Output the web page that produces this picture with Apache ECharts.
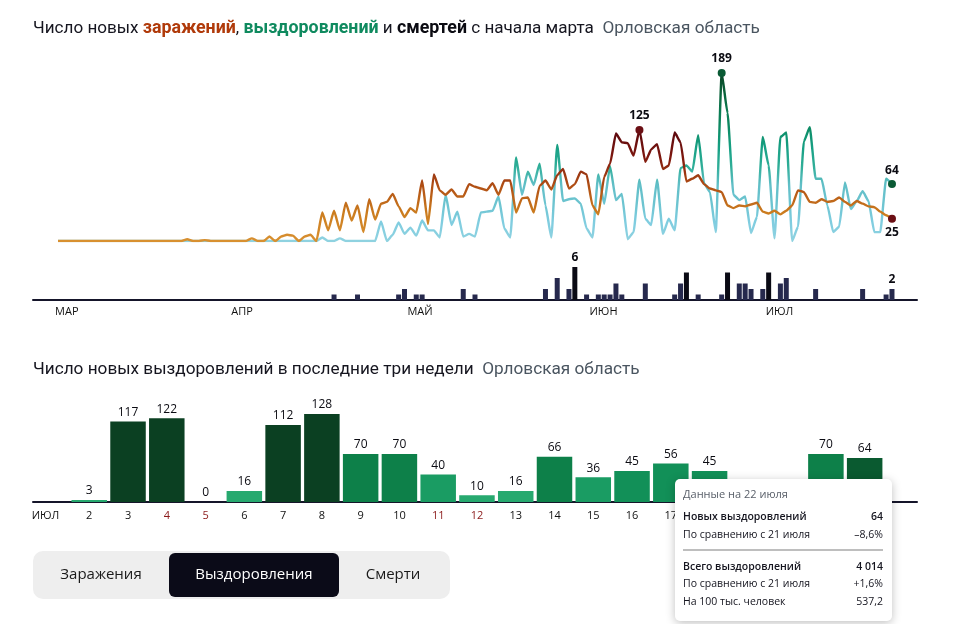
<!DOCTYPE html>
<html>
<head>
<meta charset="utf-8">
<style>
  html, body { margin: 0; padding: 0; background: #fff; }
  #chart { width: 960px; height: 624px; }
</style>
<script src="https://cdn.jsdelivr.net/npm/echarts@6/dist/echarts.min.js"></script>
</head>
<body>
<div id="chart"></div>
<script>
// daily values, 2 March to 22 July
var infections = [
  0,0,0,0,0,0,0,0,0,0,0,0,0,0,0,0,0,0,0,0,0,0,2,0,0,1,0,0,0,0,0,0,0,3,0,0,5,0,5,7,6,0,5,7,0,
  32,12,34,12,43,23,40,10,47,24,42,44,53,39,27,37,32,68,19,75,57,52,58,50,50,64,61,59,57,65,52,68,68,
  32,48,49,32,62,68,58,74,81,59,64,78,75,40,30,72,87,121,111,110,96,125,89,103,109,81,85,122,111,
  67,70,74,64,59,57,55,40,37,40,39,41,43,33,31,34,30,34,40,57,55,44,43,47,44,45,49,44,40,45,42,39,38,33,29,25
];
var recoveries = [
  0,0,0,0,0,0,0,0,0,0,0,0,0,0,0,0,0,0,0,0,0,0,0,0,0,0,0,0,0,0,0,0,0,0,0,0,0,0,0,0,0,0,0,0,0,
  4,0,0,3,0,0,0,0,0,0,22,0,7,21,8,15,6,23,12,12,4,52,18,33,5,8,5,32,33,34,50,14,4,
  94,52,78,63,87,40,4,108,45,47,48,42,14,4,75,42,84,46,53,2,10,69,25,18,69,8,25,12,82,
  85,78,119,65,55,10,189,144,52,46,50,9,27,117,85,3,117,122,0,16,112,128,70,70,40,10,16,66,36,45,56,45,10,10,70,64
];
var deathDays = [47,51,58,59,61,62,69,71,83,85,87,88,90,92,93,94,95,96,100,105,106,107,109,113,114,116,117,118,120,121,123,124,129,137,141,142];
var deathValues = [1,1,1,2,1,1,2,1,2,4,2,6,1,1,1,1,3,1,3,1,3,5,1,1,5,3,3,2,2,5,3,4,2,2,1,2];

var monthNames = ['МАР', 'АПР', 'МАЙ', 'ИЮН', 'ИЮЛ'];
var monthStarts = [0, 30, 60, 91, 121];

var julyDays = [2,3,4,5,6,7,8,9,10,11,12,13,14,15,16,17,18,19,20,21,22];
var julyRecoveries = [3,117,122,0,16,112,128,70,70,40,10,16,66,36,45,56,45,10,10,70,64];
var weekendDays = [4,5,11,12,18,19];

var tipLabels = ['Новых выздоровлений', 'По сравнению с 21 июля', 'Всего выздоровлений', 'По сравнению с 21 июля', 'На 100 тыс. человек'];
var tipValues = ['64', '–8,6%', '4 014', '+1,6%', '537,2'];
var tipRowY = [517, 535, 567, 584, 602];

var FONT = '"Open Sans", sans-serif';
var TITLE_FONT = 'Roboto, sans-serif';

function pairs(values) {
  return values.map(function (v, i) { return [i, v]; });
}

function dot(i, values, color, pos) {
  return {
    value: [i, values[i]],
    itemStyle: { color: color, opacity: 1 },
    label: { position: pos }
  };
}

function julyColor(v, idx) {
  if (idx === julyRecoveries.length - 1) return '#0a5a30';
  if (v >= 100) return '#0b4022';
  if (v >= 60) return '#0d8049';
  if (v >= 42) return '#129058';
  if (v >= 30) return '#1a9c63';
  return '#27a96f';
}

var hiddenX = { show: false };

var tipGraphics = [{
  type: 'rect', z: 100,
  shape: { x: 675, y: 479, width: 217, height: 142, r: 5 },
  style: { fill: '#fff', shadowBlur: 10, shadowColor: 'rgba(0,0,0,0.25)', shadowOffsetY: 2 }
}, {
  type: 'text', z: 101, x: 683, y: 495,
  style: { text: 'Данные на 22 июля', font: '11px ' + FONT, fill: '#5a606a', verticalAlign: 'middle' }
}, {
  type: 'line', z: 101,
  shape: { x1: 683, y1: 550, x2: 883, y2: 550 },
  style: { stroke: '#a8a8a8', lineWidth: 1.5 }
}];
tipLabels.forEach(function (label, k) {
  var weight = (k === 0 || k === 2) ? '600 ' : '';
  tipGraphics.push({
    type: 'text', z: 101, x: 683, y: tipRowY[k],
    style: { text: label, font: weight + '10.5px ' + FONT, fill: '#15151f', verticalAlign: 'middle' }
  });
  tipGraphics.push({
    type: 'text', z: 101, x: 883, y: tipRowY[k],
    style: { text: tipValues[k], font: weight + '10.5px ' + FONT, fill: '#15151f', align: 'right', verticalAlign: 'middle' }
  });
});

var tabGraphics = [{
  type: 'rect', shape: { x: 33, y: 551, width: 417, height: 48, r: 10 }, style: { fill: '#eeeeee' }
}, {
  type: 'rect', shape: { x: 169, y: 553, width: 170, height: 44, r: 6 }, style: { fill: '#0b0b18' }
}, {
  type: 'text', x: 101, y: 575, style: { text: 'Заражения', font: '15px ' + FONT, fill: '#1a1a1a', align: 'center', verticalAlign: 'middle' }
}, {
  type: 'text', x: 254, y: 575, style: { text: 'Выздоровления', font: '15px ' + FONT, fill: '#fff', align: 'center', verticalAlign: 'middle' }
}, {
  type: 'text', x: 393, y: 575, style: { text: 'Смерти', font: '15px ' + FONT, fill: '#1a1a1a', align: 'center', verticalAlign: 'middle' }
}];

var chart = echarts.init(document.getElementById('chart'));
chart.setOption({
  animation: false,
  backgroundColor: '#fff',
  title: [{
    left: 33, top: 20, padding: 0,
    text: '{a|Число новых }{inf|заражений}{a|, }{rec|выздоровлений}{a| и }{dth|смертей}{a| с начала марта}{reg|  Орловская область}',
    textStyle: {
      fontWeight: 'normal',
      rich: {
        a: { fontFamily: TITLE_FONT, fontSize: 17.1, fontWeight: 'normal', color: '#15151f' },
        inf: { fontFamily: TITLE_FONT, fontSize: 17.8, fontWeight: 700, color: '#b03a0a' },
        rec: { fontFamily: TITLE_FONT, fontSize: 17.8, fontWeight: 700, color: '#0f8a5f' },
        dth: { fontFamily: TITLE_FONT, fontSize: 17.8, fontWeight: 700, color: '#0b0b12' },
        reg: { fontFamily: TITLE_FONT, fontSize: 17.2, fontWeight: 'normal', color: '#4a5560' }
      }
    }
  }, {
    left: 33, top: 361, padding: 0,
    text: '{a|Число новых выздоровлений в последние три недели}{reg|  Орловская область}',
    textStyle: {
      fontWeight: 'normal',
      rich: {
        a: { fontFamily: TITLE_FONT, fontSize: 17.2, fontWeight: 'normal', color: '#15151f' },
        reg: { fontFamily: TITLE_FONT, fontSize: 17.2, fontWeight: 'normal', color: '#4a5560' }
      }
    }
  }],
  grid: [
    { left: 33, width: 884, top: 73, height: 168 },
    { left: 33, width: 884, top: 267, height: 33 },
    { left: 33, width: 884, top: 414, height: 88 }
  ],
  // day index on the two upper charts, day of July on the lower one
  xAxis: [
    { gridIndex: 0, type: 'value', min: -4.257, max: 146.26, show: false },
    {
      gridIndex: 1, type: 'value', min: -4.257, max: 146.26,
      splitLine: hiddenX,
      axisTick: hiddenX,
      axisLine: { show: true, lineStyle: { color: '#15152a', width: 2 } },
      axisLabel: {
        customValues: monthStarts.map(function (d) { return d - 0.5; }),
        formatter: function (v) { return monthNames[monthStarts.indexOf(v + 0.5)]; },
        align: 'left', margin: 6, fontFamily: FONT, fontSize: 11, color: '#111'
      }
    },
    {
      gridIndex: 2, type: 'value', min: 0.549, max: 23.35,
      splitLine: hiddenX,
      axisTick: hiddenX,
      axisLine: { show: true, lineStyle: { color: '#15152a', width: 2 } },
      axisLabel: {
        customValues: [0.87].concat(julyDays),
        formatter: function (v) {
          if (v < 1) return 'ИЮЛ';
          return weekendDays.indexOf(v) >= 0 ? '{off|' + v + '}' : String(v);
        },
        rich: { off: { color: '#8b1a1a', fontFamily: FONT, fontSize: 11 } },
        margin: 8, fontFamily: FONT, fontSize: 11, color: '#111'
      }
    }
  ],
  yAxis: [
    { gridIndex: 0, type: 'value', min: 0, max: 189, show: false },
    { gridIndex: 1, type: 'value', min: 0, max: 6, show: false },
    { gridIndex: 2, type: 'value', min: 0, max: 128, show: false }
  ],
  visualMap: [{
    show: false, type: 'continuous', seriesIndex: 0, dimension: 1, min: 0, max: 189,
    inRange: { color: ['#8fd2e0', '#80cde0', '#6cc4d0', '#62bfc8', '#2fae98', '#17a084', '#0d8c66', '#0b7a50', '#0a6038', '#0a4426'] }
  }, {
    show: false, type: 'continuous', seriesIndex: 1, dimension: 1, min: 0, max: 125,
    inRange: { color: ['#d89030', '#cc7d1f', '#b04e14', '#7e180f', '#5a080e'] }
  }],
  series: [{
    name: 'Выздоровления', type: 'line', xAxisIndex: 0, yAxisIndex: 0,
    data: pairs(recoveries), showSymbol: false, smooth: 0.15, smoothMonotone: 'x',
    lineStyle: { width: 2.4 }, z: 2
  }, {
    name: 'Заражения', type: 'line', xAxisIndex: 0, yAxisIndex: 0,
    data: pairs(infections), showSymbol: false, smooth: 0.15, smoothMonotone: 'x',
    lineStyle: { width: 2.4 }, z: 3
  }, {
    type: 'scatter', xAxisIndex: 0, yAxisIndex: 0, symbolSize: 8, z: 4,
    label: { show: true, formatter: function (p) { return p.value[1]; }, distance: 4, fontFamily: FONT, fontSize: 12, fontWeight: 700, color: '#0b0b12' },
    data: [
      dot(113, recoveries, '#0a5a35', 'top'),
      dot(142, recoveries, '#0a5a35', 'top'),
      dot(99, infections, '#6b0f14', 'top'),
      dot(142, infections, '#6b0f14', 'bottom')
    ]
  }, {
    name: 'Смерти', type: 'bar', xAxisIndex: 1, yAxisIndex: 1, barWidth: 5,
    data: deathDays.map(function (d, k) {
      var v = deathValues[k];
      return {
        value: [d, v],
        itemStyle: { color: v >= 5 ? '#0a0a14' : '#26294d' },
        label: { show: k === deathDays.indexOf(88) || k === deathDays.length - 1 }
      };
    }),
    label: { position: 'top', distance: 3, formatter: function (p) { return p.value[1]; }, fontFamily: FONT, fontSize: 12, fontWeight: 700, color: '#0b0b12' }
  }, {
    name: 'Выздоровления в июле', type: 'bar', xAxisIndex: 2, yAxisIndex: 2, barWidth: 35.5,
    data: julyDays.map(function (d, k) { return [d, julyRecoveries[k]]; }),
    itemStyle: { color: function (p) { return julyColor(p.value[1], p.dataIndex); } },
    label: { show: true, position: 'top', distance: 3, formatter: function (p) { return p.value[1]; }, fontFamily: FONT, fontSize: 12, color: '#0b0b12' }
  }],
  graphic: tabGraphics.concat(tipGraphics)
});
</script>
</body>
</html>
